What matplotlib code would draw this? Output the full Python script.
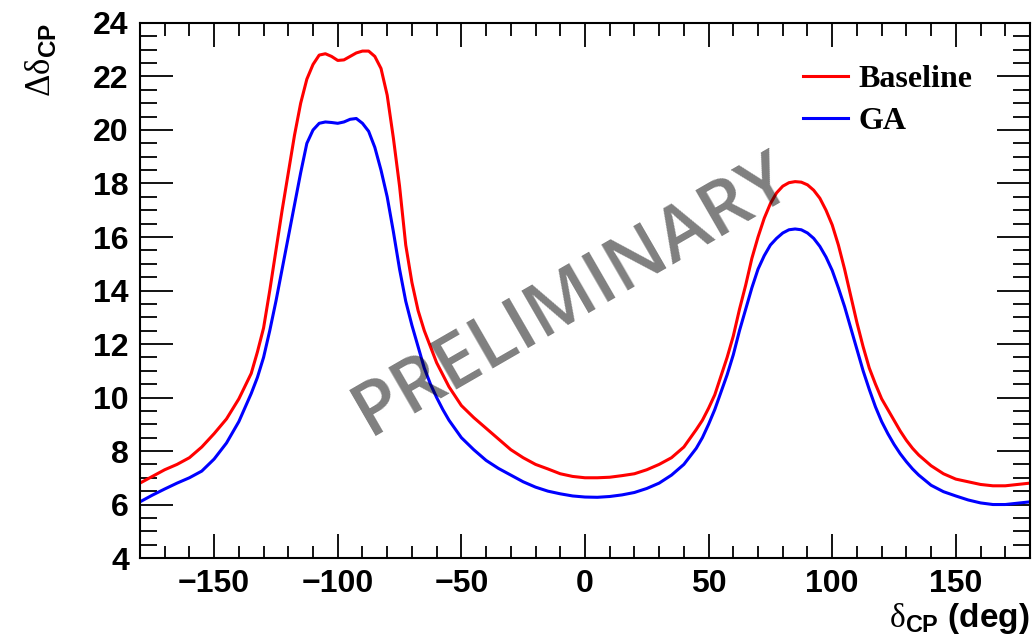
import matplotlib
matplotlib.use("Agg")
import matplotlib.pyplot as plt
from matplotlib.ticker import MultipleLocator

# delta_CP grid (deg), finer where the curves are steep
dcp = [-180, -175, -170, -165, -160, -155, -150, -145, -140,
       -135, -132.5, -130, -127.5, -125, -122.5, -120, -117.5, -115, -112.5,
       -110, -107.5, -105, -102.5, -100, -97.5, -95, -92.5, -90, -87.5,
       -85, -82.5, -80, -77.5, -75, -72.5, -70, -67.5, -65, -62.5,
       -60, -57.5, -55,
       -50, -45, -40, -35, -30, -25, -20, -15, -10, -5, 0, 5, 10, 15, 20,
       25, 30, 35, 40,
       45, 47.5, 50, 52.5, 55, 57.5, 60, 62.5, 65, 67.5,
       70, 72.5, 75, 77.5, 80, 82.5, 85, 87.5, 90, 92.5,
       95, 97.5, 100, 102.5, 105, 107.5, 110, 112.5, 115, 117.5,
       120, 122.5, 125, 127.5, 130, 132.5, 135,
       140, 145, 150, 155, 160, 165, 170, 175, 180]

baseline = [6.8, 7.05, 7.3, 7.5, 7.75, 8.15, 8.65, 9.2, 9.95,
            10.9, 11.7, 12.6, 14.0, 15.5, 17.0, 18.4, 19.8, 21.0, 21.9,
            22.45, 22.8, 22.85, 22.75, 22.6, 22.62, 22.75, 22.88, 22.95, 22.95,
            22.75, 22.3, 21.3, 19.7, 17.9, 15.7, 14.3, 13.25, 12.5, 11.9,
            11.3, 10.85, 10.4,
            9.7, 9.25, 8.85, 8.45, 8.05, 7.75, 7.5, 7.33, 7.15, 7.05, 7.0,
            7.0, 7.02, 7.08, 7.15, 7.3, 7.5, 7.75, 8.15,
            8.8, 9.15, 9.6, 10.1, 10.8, 11.5, 12.3, 13.3, 14.2, 15.2,
            16.0, 16.7, 17.25, 17.65, 17.9, 18.03, 18.07, 18.05, 17.95, 17.75,
            17.45, 17.0, 16.45, 15.7, 14.8, 13.8, 12.8, 11.9, 11.1, 10.5,
            9.95, 9.55, 9.15, 8.75, 8.4, 8.1, 7.85,
            7.45, 7.15, 6.95, 6.85, 6.75, 6.7, 6.7, 6.75, 6.8]

ga = [6.1, 6.35, 6.58, 6.8, 7.0, 7.25, 7.7, 8.3, 9.1,
      10.15, 10.75, 11.5, 12.5, 13.6, 14.8, 16.0, 17.2, 18.4, 19.5,
      20.0, 20.25, 20.3, 20.28, 20.25, 20.3, 20.4, 20.43, 20.25, 19.95,
      19.35, 18.5, 17.5, 16.2, 14.8, 13.6, 12.7, 11.9, 11.1, 10.5,
      10.0, 9.55, 9.15,
      8.5, 8.05, 7.65, 7.35, 7.1, 6.85, 6.65, 6.5, 6.4, 6.32, 6.28,
      6.27, 6.3, 6.36, 6.45, 6.6, 6.8, 7.1, 7.5,
      8.1, 8.5, 9.0, 9.55, 10.2, 10.85, 11.6, 12.5, 13.3, 14.1,
      14.8, 15.3, 15.7, 15.95, 16.15, 16.27, 16.3, 16.27, 16.15, 15.95,
      15.65, 15.25, 14.75, 14.1, 13.4, 12.6, 11.8, 11.0, 10.3, 9.65,
      9.1, 8.65, 8.25, 7.9, 7.6, 7.33, 7.1,
      6.72, 6.48, 6.32, 6.17, 6.06, 6.0, 6.0, 6.05, 6.1]

labels = ['Baseline', 'GA']
colors = ['#ff0000', '#0000ff']

plt.rcParams['font.family'] = ['Liberation Sans', 'DejaVu Sans']
plt.rcParams['font.weight'] = 'bold'
plt.rcParams['mathtext.fontset'] = 'custom'
plt.rcParams['mathtext.rm'] = 'Liberation Serif:weight=normal'
plt.rcParams['mathtext.bf'] = 'Liberation Sans:weight=bold'

fig = plt.figure(figsize=(10.36, 6.42), dpi=100)
ax = fig.add_axes([0.1351, 0.1308, 0.8591, 0.8334])

for y, lab, c in zip([baseline, ga], labels, colors):
    ax.plot(dcp, y, color=c, lw=2.2, label=lab, solid_joinstyle='round')

ax.set_xlim(-180, 180)
ax.set_ylim(4, 24)
ax.xaxis.set_major_locator(MultipleLocator(50))
ax.xaxis.set_minor_locator(MultipleLocator(10))
ax.yaxis.set_major_locator(MultipleLocator(2))
ax.yaxis.set_minor_locator(MultipleLocator(0.5))
ax.tick_params(which='both', direction='in', top=True, right=True, width=1.3,
               labelsize=23, pad=8)
ax.tick_params(axis='x', which='major', length=17)
ax.tick_params(axis='x', which='minor', length=9)
ax.tick_params(axis='y', which='major', length=24)
ax.tick_params(axis='y', which='minor', length=12)
for s in ax.spines.values():
    s.set_linewidth(1.5)

ax.set_xlabel(r'$\mathrm{\delta}_{\mathbf{CP}}$ (deg)', fontsize=24,
              fontweight='bold', loc='right')
ax.xaxis.set_label_coords(1.0, -0.08)
ax.set_ylabel(r'$\mathrm{\Delta\delta}_{\mathbf{CP}}$', fontsize=25, loc='top')
ax.yaxis.set_label_coords(-0.092, 1.0)

ax.legend(loc='upper right', bbox_to_anchor=(0.968, 0.975), frameon=False,
          prop={'family': 'Liberation Serif', 'weight': 'bold', 'size': 23},
          handlelength=1.4, handletextpad=0.35, labelspacing=0.38)

ax.text(0.487, 0.49, 'PRELIMINARY', transform=ax.transAxes, fontsize=54,
        fontweight='semibold', color='black', alpha=0.5, rotation=30,
        ha='center', va='center', family=['Open Sans', 'Liberation Sans'])

fig.savefig('out.png', dpi=100)
